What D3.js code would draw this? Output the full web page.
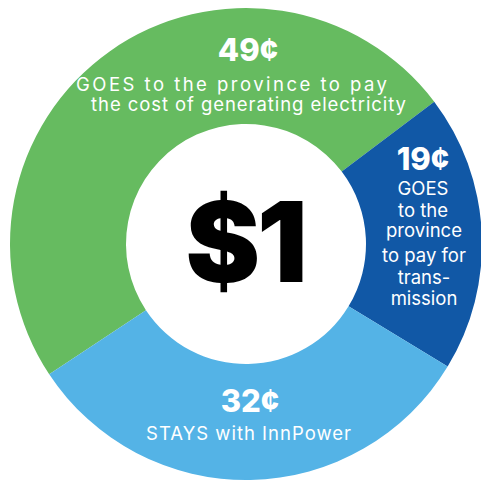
<!DOCTYPE html>
<head>
  <meta charset="utf-8">
  <script src="https://d3js.org/d3.v7.min.js"></script>
  <style>
    body { margin: 0; background: #fff; }
    text { font-family: "Inter", "DejaVu Sans", sans-serif; fill: #fff; }
  </style>
</head>
<body>
  <div id="chart"></div>
  <script>
    // where a dollar goes
    var categories = ["Generation", "Transmission", "InnPower"];
    var cents = [49, 19, 32];
    var amountLabels = ["49¢", "19¢", "32¢"];
    var descLines = [
      ["GOES to the province to pay", "the cost of generating electricity"],
      ["GOES", "to the", "province", "to pay for", "trans-", "mission"],
      ["STAYS with InnPower"]
    ];
    var centerLabel = "$1";

    (function() {
      var width = 481, height = 481;
      var cx = 246, cy = 244;

      var svg = d3.select("#chart").append("svg")
        .attr("width", width)
        .attr("height", height);

      var g = svg.append("g").attr("transform", "translate(" + cx + "," + cy + ")");

      var color = d3.scaleOrdinal()
        .domain(categories)
        .range(["#66bb60", "#1158a6", "#54b3e6"]);

      var data = categories.map(function(c, i) { return { cat: c, value: cents[i] }; });

      var start = -123.5 * Math.PI / 180;
      var pie = d3.pie().sort(null).value(function(d) { return d.value; })
        .startAngle(start).endAngle(start + 2 * Math.PI);

      var arc = d3.arc().innerRadius(120).outerRadius(236);

      g.selectAll("path.slice")
        .data(pie(data))
        .enter().append("path")
        .attr("class", "slice")
        .attr("d", arc)
        .attr("fill", function(d) { return color(d.data.cat); });

      // label blocks (offsets from the centre), w = stretched width of long lines
      var labelPos = [
        { x: 2, y: -183, lines: [{ x: -14.5, dy: 30, w: 311 }, { x: 2.5, dy: 20, w: 315 }] },
        { x: 177, y: -74, lines: [{ x: 177, dy: 25 }, { x: 177, dy: 22 }, { x: 178, dy: 20 }, { x: 178, dy: 25 }, { x: 178, dy: 22 }, { x: 178, dy: 21 }] },
        { x: 4, y: 168, lines: [{ x: 2.5, dy: 28, w: 205 }] }
      ];

      labelPos.forEach(function(p, i) {
        g.append("text")
          .attr("x", p.x).attr("y", p.y)
          .attr("text-anchor", "middle")
          .style("font-size", "31px")
          .style("font-weight", 800)
          .text(amountLabels[i]);
        var y = p.y;
        descLines[i].forEach(function(line, j) {
          var L = p.lines[j];
          y += L.dy;
          var t = g.append("text")
            .attr("x", L.x).attr("y", y)
            .attr("text-anchor", "middle")
            .style("font-size", "18.5px")
            .style("font-weight", 400)
            .text(line);
          if (L.w) t.attr("textLength", L.w).attr("lengthAdjust", "spacing");
        });
      });

      g.append("text")
        .attr("x", -1).attr("y", 38)
        .attr("text-anchor", "middle")
        .style("font-size", "112px")
        .style("font-weight", 900)
        .style("fill", "#000")
        .style("letter-spacing", "-3px")
        .text(centerLabel);
    })();
  </script>
</body>
